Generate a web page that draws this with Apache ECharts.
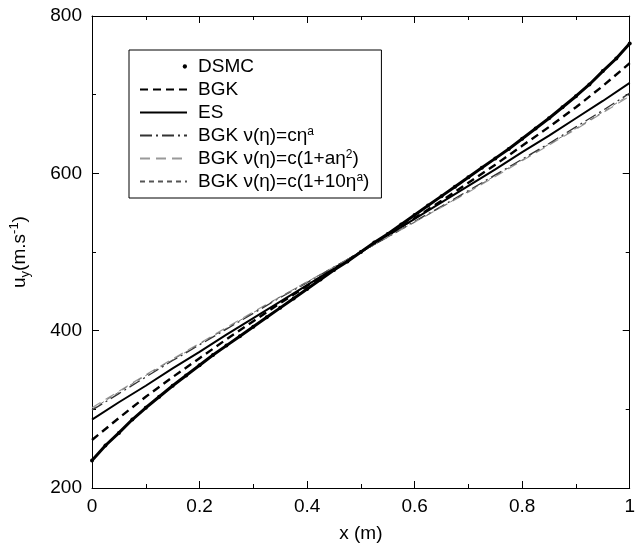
<!DOCTYPE html>
<html><head><meta charset="utf-8">
<script src="https://cdn.jsdelivr.net/npm/echarts@6/dist/echarts.min.js"></script>
<style>html,body{margin:0;padding:0;background:#fff}#c{width:638px;height:548px}</style>
</head><body><div id="c"></div>
<script>
// x positions (m)
const xDsmc = [0,0.025,0.05,0.075,0.1,0.125,0.15,0.175,0.2,0.225,0.25,0.275,0.3,0.325,0.35,0.375,0.4,0.425,0.45,0.475,0.5,0.525,0.55,0.575,0.6,0.625,0.65,0.675,0.7,0.725,0.75,0.775,0.8,0.825,0.85,0.875,0.9,0.925,0.95,0.975,1];
const uDsmc = [235,254,270,287,302,316,330,343,356,369,381,393,405,417,429,441,453,465,477,488,500,512,523,535,547,559,571,583,595,607,619,631,644,657,670,684,698,713,730,746,765];
const xModel = [0,0.05,0.1,0.15,0.2,0.25,0.3,0.35,0.4,0.45,0.5,0.55,0.6,0.65,0.7,0.75,0.8,0.85,0.9,0.95,1];
const uBGK  = [261,289,316,341,365,389,412,435,457,479,500,521,543,565,588,611,635,659,684,711,740];
const uES   = [287,309,330,352,373,395,416,437,458,479,500,521,542,563,584,605,627,648,670,692,715];
const uBGKa = [299,320,341,362,382,402,422,442,461,481,500,519,539,558,578,598,618,638,659,680,702];
const uBGKb = [302,323,344,364,384,404,424,443,462,481,500,519,538,557,576,596,616,636,656,677,698];
const uBGKc = [300,322,343,363,383,403,423,443,462,481,500,519,538,557,577,597,617,637,657,678,700];
const names = ['DSMC','BGK','ES','BGK ν(η)=cη{s|a}','BGK ν(η)=c(1+aη{s|2})','BGK ν(η)=c(1+10η{s|a})'];
const xTicks = [0,0.2,0.4,0.6,0.8,1];
const yTicks = [200,400,600,800];

const zip = (xs, ys) => xs.map((x,i)=>[x, ys[i]]);
const FONT = 'Liberation Sans, Arial, Helvetica, sans-serif';
const FS = 19;

const dotIcon = 'path://M0,0L0,0M47,16L47,16M44,8a2.2,2.2 0 1,0 4.4,0a2.2,2.2 0 1,0 -4.4,0Z';

const chart = echarts.init(document.getElementById('c'), null, {renderer:'canvas'});
const axisCommon = {
  axisLine:{show:true, onZero:false, lineStyle:{color:'#000', width:1}},
  axisTick:{show:true, inside:true, length:7, lineStyle:{color:'#000'}},
  minorTick:{show:true, splitNumber:2, length:4, lineStyle:{color:'#000'}},
  splitLine:{show:false},
  axisLabel:{color:'#000', fontSize:FS, fontFamily:FONT}
};
chart.setOption({
  animation:false,
  backgroundColor:'#fff',
  grid:{left:91, right:3, top:16, bottom:55},
  legend:{
    orient:'vertical', left:129, top:50,
    backgroundColor:'#fff', borderColor:'#000', borderWidth:1,
    padding:[7,12,7,10], itemGap:4, itemWidth:47, itemHeight:16,
    itemStyle:{opacity:0},
    textStyle:{color:'#000', fontSize:FS, fontFamily:FONT, padding:[0,0,0,6],
      rich:{s:{fontSize:12, fontFamily:FONT, verticalAlign:'top', lineHeight:10}}},
    formatter: n => n,
    data:[
      {name:names[0], icon:dotIcon, itemStyle:{color:'#000', opacity:1}},
      names[1], names[2], names[3], names[4], names[5]
    ]
  },
  xAxis:[
    Object.assign({type:'value', min:0, max:1, interval:0.2, position:'bottom',
      name:'x (m)', nameLocation:'middle', nameGap:36,
      nameTextStyle:{color:'#000', fontSize:FS, fontFamily:FONT}}, axisCommon,
      {axisLabel:Object.assign({}, axisCommon.axisLabel, {margin:9, formatter:v=>xTicks.includes(+v.toFixed(1))?String(+v.toFixed(1)):''})}),
    Object.assign({type:'value', min:0, max:1, interval:0.2, position:'top'}, axisCommon, {axisLabel:{show:false}})
  ],
  yAxis:[
    Object.assign({type:'value', min:200, max:800, interval:200, position:'left',
      name:'{m|u}{b|y}{m|(m.s}{t|-1}{m|)}', nameLocation:'middle', nameGap:60,
      nameTextStyle:{color:'#000', fontSize:FS, fontFamily:FONT,
        rich:{m:{fontSize:FS, fontFamily:FONT, color:'#000', lineHeight:24},
              b:{fontSize:13, fontFamily:FONT, color:'#000', verticalAlign:'bottom', lineHeight:12},
              t:{fontSize:13, fontFamily:FONT, color:'#000', verticalAlign:'top', lineHeight:12}}}}, axisCommon,
      {axisLabel:Object.assign({}, axisCommon.axisLabel, {margin:10, formatter:v=>yTicks.includes(v)?String(v):''})}),
    Object.assign({type:'value', min:200, max:800, interval:200, position:'right'}, axisCommon, {axisLabel:{show:false}})
  ],
  series:[
    {name:names[0], type:'line', data:zip(xDsmc,uDsmc), symbol:'circle', symbolSize:4, showAllSymbol:true,
     itemStyle:{color:'#000'}, lineStyle:{color:'#000', width:3}, z:5},
    {name:names[1], type:'line', data:zip(xModel,uBGK), showSymbol:false, symbol:'none',
     lineStyle:{color:'#000', width:2.4, type:[8,5]}, itemStyle:{color:'#000'}},
    {name:names[2], type:'line', data:zip(xModel,uES), showSymbol:false, symbol:'none',
     lineStyle:{color:'#000', width:2}, itemStyle:{color:'#000'}},
    {name:names[3], type:'line', data:zip(xModel,uBGKa), showSymbol:false, symbol:'none',
     lineStyle:{color:'#333', width:1.3, type:[12,4,2,4]}, itemStyle:{color:'#333'}},
    {name:names[4], type:'line', data:zip(xModel,uBGKb), showSymbol:false, symbol:'none',
     lineStyle:{color:'#999', width:1.2, type:[10,6]}, itemStyle:{color:'#999'}},
    {name:names[5], type:'line', data:zip(xModel,uBGKc), showSymbol:false, symbol:'none',
     lineStyle:{color:'#555', width:0.8, type:[5,4]}, itemStyle:{color:'#555'}}
  ]
});
</script></body></html>
